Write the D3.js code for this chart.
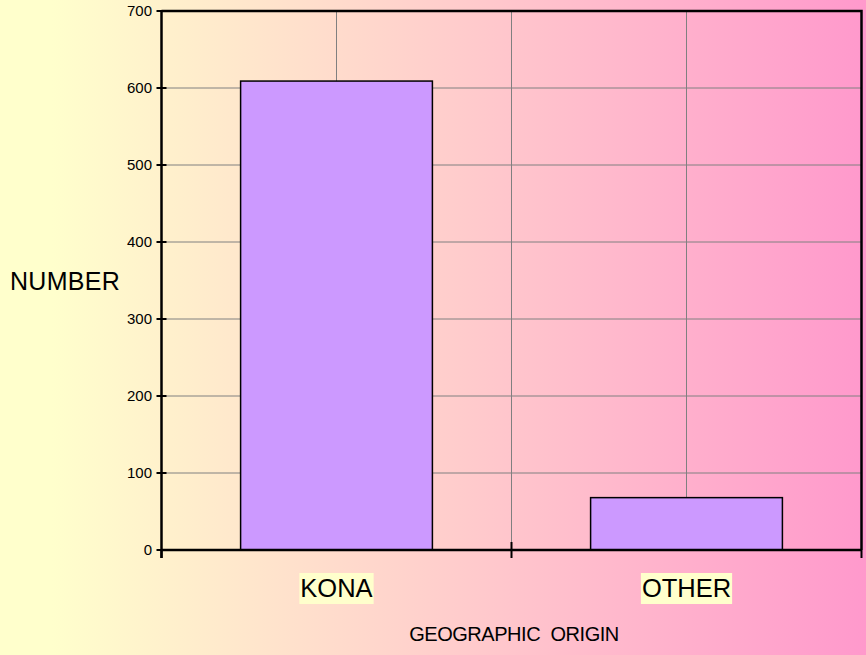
<!DOCTYPE html>
<html>
<head>
<meta charset="utf-8">
<script src="https://cdn.jsdelivr.net/npm/d3@7"></script>
<style>
  html, body { margin: 0; padding: 0; }
  body { width: 866px; height: 655px; overflow: hidden; font-family: Arial, "Liberation Sans", sans-serif; }
</style>
</head>
<body>
<div id="chart"></div>
<script>
// chart values
var categories = ["KONA", "OTHER"];
var counts = [609, 68];
var yTicks = [0, 100, 200, 300, 400, 500, 600, 700];

var width = 866, height = 655;
var margin = { top: 11, left: 161.5, right: 4.5, bottom: 105 };
var plotW = width - margin.left - margin.right;
var plotH = height - margin.top - margin.bottom;

var svg = d3.select("#chart").append("svg")
    .attr("width", width)
    .attr("height", height);

// background gradient, yellow to pink
var defs = svg.append("defs");
var grad = defs.append("linearGradient").attr("id", "bg")
    .attr("x1", "0%").attr("x2", "100%").attr("y1", "0%").attr("y2", "0%");
grad.append("stop").attr("offset", "0%").attr("stop-color", "#ffffcc");
grad.append("stop").attr("offset", "6%").attr("stop-color", "#ffffcc");
grad.append("stop").attr("offset", "100%").attr("stop-color", "#ff99cc");
svg.append("rect").attr("width", width).attr("height", height).attr("fill", "url(#bg)");

var g = svg.append("g").attr("transform", `translate(${margin.left},${margin.top})`);

// scales
var xScale = d3.scaleBand().domain(categories).range([0, plotW]);
var yScale = d3.scaleLinear().domain([0, 700]).range([plotH, 0]);
var barW = xScale.bandwidth() * 0.548;

// horizontal gridlines
g.selectAll(".hgrid").data(yTicks.slice(1)).enter().append("line")
    .attr("x1", 0).attr("x2", plotW)
    .attr("y1", d => yScale(d)).attr("y2", d => yScale(d))
    .attr("stroke", "#808080").attr("stroke-width", 1);

// vertical gridlines at category centres and between categories
var vLines = categories.map(c => xScale(c) + xScale.bandwidth() / 2)
    .concat(categories.slice(1).map(c => xScale(c)));
g.selectAll(".vgrid").data(vLines).enter().append("line")
    .attr("x1", d => d).attr("x2", d => d)
    .attr("y1", 0).attr("y2", plotH)
    .attr("stroke", "#808080").attr("stroke-width", 1);

// bars
g.selectAll(".bar").data(counts).enter().append("rect")
    .attr("x", (d, i) => xScale(categories[i]) + (xScale.bandwidth() - barW) / 2)
    .attr("y", d => yScale(d))
    .attr("width", barW)
    .attr("height", d => plotH - yScale(d))
    .attr("fill", "#cc99ff")
    .attr("stroke", "#000")
    .attr("stroke-width", 1.5);

// plot frame: top and right
g.append("path")
    .attr("d", `M0,0H${plotW}V${plotH}`)
    .attr("fill", "none").attr("stroke", "#000").attr("stroke-width", 2.5);

// y axis
var leftAxis = d3.axisLeft(yScale).tickValues(yTicks).tickSize(0).tickPadding(9.5);
var yAx = g.append("g").call(leftAxis);
yAx.select(".domain").remove();
yAx.selectAll("text").attr("font-size", 15).attr("font-family", "Arial, 'Liberation Sans', sans-serif").attr("fill", "#000");
g.append("line").attr("x1", 0).attr("x2", 0).attr("y1", 0).attr("y2", plotH + 8)
    .attr("stroke", "#000").attr("stroke-width", 2.5);
g.selectAll(".ytick").data(yTicks).enter().append("line")
    .attr("x1", -5).attr("x2", 5)
    .attr("y1", d => yScale(d)).attr("y2", d => yScale(d))
    .attr("stroke", "#000").attr("stroke-width", 2);

// x axis
g.append("line").attr("x1", 0).attr("x2", plotW).attr("y1", plotH).attr("y2", plotH)
    .attr("stroke", "#000").attr("stroke-width", 2.5);
var xTicks = [0].concat(categories.slice(1).map(c => xScale(c))).concat([plotW]);
g.selectAll(".xtick").data(xTicks).enter().append("line")
    .attr("x1", d => d).attr("x2", d => d)
    .attr("y1", (d, i) => (i === 0 || i === xTicks.length - 1) ? plotH : plotH - 8)
    .attr("y2", plotH + 8)
    .attr("stroke", "#000").attr("stroke-width", 2);

// category labels with yellow highlight
var catG = g.selectAll(".cat").data(categories).enter().append("g")
    .attr("transform", d => `translate(${xScale(d) + xScale.bandwidth() / 2},${plotH + 38.5})`);
catG.append("text")
    .attr("text-anchor", "middle")
    .attr("dy", "0.35em")
    .attr("font-size", 25.5)
    .attr("fill", "#000")
    .text(d => d)
    .each(function() {
        var bb = this.getBBox();
        d3.select(this.parentNode).insert("rect", "text")
            .attr("x", bb.x - 1).attr("y", -15.5).attr("width", bb.width + 2).attr("height", 31)
            .attr("fill", "#ffffcc");
    });

// axis titles
svg.append("text")
    .attr("x", 514).attr("y", 641)
    .attr("text-anchor", "middle")
    .attr("font-size", 20)
    .attr("letter-spacing", -0.45)
    .attr("fill", "#000")
    .style("white-space", "pre")
    .text("GEOGRAPHIC  ORIGIN");

svg.append("text")
    .attr("x", 10).attr("y", 290)
    .attr("font-size", 25)
    .attr("letter-spacing", 0.3)
    .attr("fill", "#000")
    .text("NUMBER");
</script>
</body>
</html>
